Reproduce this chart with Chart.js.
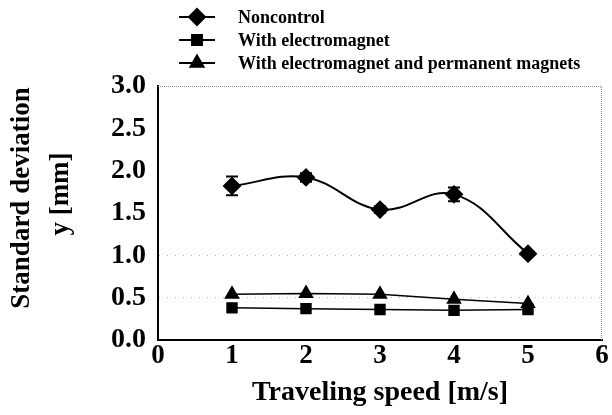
<!DOCTYPE html>
<html><head><meta charset="utf-8">
<script src="https://cdn.jsdelivr.net/npm/chart.js@4/dist/chart.umd.min.js"></script>
<style>html,body{margin:0;padding:0;background:#fff}</style>
</head><body>
<canvas id="c" width="612" height="415"></canvas>
<script>
const speeds = [1, 2, 3, 4, 5];
const noncontrol = [1.82, 1.92, 1.54, 1.72, 1.02];
const noncontrolErr = [0.11, 0.05, 0.04, 0.08, 0.03];
const electromagnet = [0.38, 0.37, 0.36, 0.35, 0.36];
const electroPermanent = [0.54, 0.55, 0.54, 0.48, 0.43];
const seriesLabels = ['Noncontrol', 'With electromagnet', 'With electromagnet and permanent magnets'];
const xTitle = 'Traveling speed [m/s]';
const yTitle = ['Standard deviation', 'y [mm]'];

const FONT = "'Liberation Serif', 'Times New Roman', serif";

function pts(ys) { return speeds.map((x, i) => ({x: x, y: ys[i]})); }

const errorBars = {
  id: 'errorBars',
  afterDatasetsDraw(chart) {
    const ctx = chart.ctx, xs = chart.scales.x, ys = chart.scales.y;
    ctx.save();
    ctx.strokeStyle = '#000';
    ctx.lineWidth = 2;
    noncontrol.forEach((v, i) => {
      const px = xs.getPixelForValue(speeds[i]);
      const top = ys.getPixelForValue(v + noncontrolErr[i]);
      const bot = ys.getPixelForValue(v - noncontrolErr[i]);
      ctx.beginPath();
      ctx.moveTo(px, top); ctx.lineTo(px, bot);
      ctx.moveTo(px - 6, top); ctx.lineTo(px + 6, top);
      ctx.moveTo(px - 6, bot); ctx.lineTo(px + 6, bot);
      ctx.stroke();
    });
    ctx.restore();
  }
};

const frame = {
  id: 'frame',
  afterDraw(chart) {
    const a = chart.chartArea, ctx = chart.ctx;
    ctx.save();
    ctx.strokeStyle = '#888';
    ctx.lineWidth = 1;
    ctx.setLineDash([1, 1]);
    ctx.beginPath();
    ctx.moveTo(a.left, a.top + 0.5); ctx.lineTo(a.right - 0.5, a.top + 0.5); ctx.lineTo(a.right - 0.5, a.bottom);
    ctx.stroke();
    ctx.restore();
  }
};

const yTitlePlugin = {
  id: 'yTitlePlugin',
  afterDraw(chart) {
    const ctx = chart.ctx;
    const cols = [22, 61];
    const centers = [198, 194];
    ctx.save();
    ctx.fillStyle = '#000';
    ctx.font = "bold 27px " + FONT;
    ctx.textAlign = 'center';
    ctx.textBaseline = 'middle';
    yTitle.forEach((t, i) => {
      ctx.save();
      ctx.translate(cols[i], centers[i]);
      ctx.rotate(-Math.PI / 2);
      ctx.fillText(t, 0, 0);
      ctx.restore();
    });
    ctx.restore();
  }
};

const customLegend = {
  id: 'customLegend',
  afterDraw(chart) {
    const ctx = chart.ctx;
    const rows = [17, 40, 63];
    ctx.save();
    chart.data.datasets.forEach((ds, i) => {
      const y = rows[i];
      ctx.strokeStyle = '#000';
      ctx.fillStyle = '#000';
      ctx.lineWidth = 2;
      ctx.setLineDash([]);
      ctx.beginPath();
      ctx.moveTo(179, y); ctx.lineTo(215, y);
      ctx.stroke();
      Chart.helpers.drawPoint(ctx, {pointStyle: ds.pointStyle, radius: ds.pointRadius, rotation: 0, borderWidth: 1}, 197, y);
      ctx.font = "bold 18px " + FONT;
      ctx.textBaseline = 'middle';
      ctx.textAlign = 'left';
      ctx.fillText(ds.label, 238, y + 1);
    });
    ctx.restore();
  }
};

new Chart(document.getElementById('c'), {
  type: 'scatter',
  data: {
    datasets: [
      {label: seriesLabels[0], data: pts(noncontrol), showLine: true, tension: 0.4,
       borderColor: '#000', backgroundColor: '#000', borderWidth: 2,
       pointStyle: 'rectRot', pointRadius: 8, pointBackgroundColor: '#000', pointBorderColor: '#000'},
      {label: seriesLabels[1], data: pts(electromagnet), showLine: true, tension: 0,
       borderColor: '#000', backgroundColor: '#000', borderWidth: 1.5,
       pointStyle: 'rect', pointRadius: 7, pointBackgroundColor: '#000', pointBorderColor: '#000'},
      {label: seriesLabels[2], data: pts(electroPermanent), showLine: true, tension: 0,
       borderColor: '#000', backgroundColor: '#000', borderWidth: 1.5,
       pointStyle: 'triangle', pointRadius: 7.5, pointBackgroundColor: '#000', pointBorderColor: '#000'}
    ]
  },
  options: {
    responsive: false,
    animation: false,
    layout: {padding: {top: 86, right: 6, left: 0, bottom: 0}},
    plugins: {legend: {display: false}, tooltip: {enabled: false}},
    scales: {
      x: {
        type: 'linear', min: 0, max: 6,
        afterFit(s) { s.height = 75; },
        ticks: {stepSize: 1, color: '#000', padding: 0, font: {family: FONT, size: 27, weight: 'bold'}},
        grid: {display: false, drawTicks: false},
        border: {display: true, color: '#000', width: 2},
        title: {display: true, text: xTitle, color: '#000', padding: {top: 0, bottom: 5},
                font: {family: FONT, size: 28, weight: 'bold'}}
      },
      y: {
        min: 0, max: 3,
        afterFit(s) { s.width = 158; },
        ticks: {stepSize: 0.5, color: '#000', padding: 12,
                callback: v => v.toFixed(1),
                font: {family: FONT, size: 28, weight: 'bold'}},
        grid: {drawTicks: false, lineWidth: 1,
               color: c => (c.tick && (c.tick.value === 0.5 || c.tick.value === 1)) ? 'rgba(0,0,0,0.3)' : 'rgba(0,0,0,0)'},
        border: {display: true, color: '#000', width: 2, dash: [1, 7]},
        title: {display: false}
      }
    }
  },
  plugins: [errorBars, frame, yTitlePlugin, customLegend]
});
</script>
</body></html>
